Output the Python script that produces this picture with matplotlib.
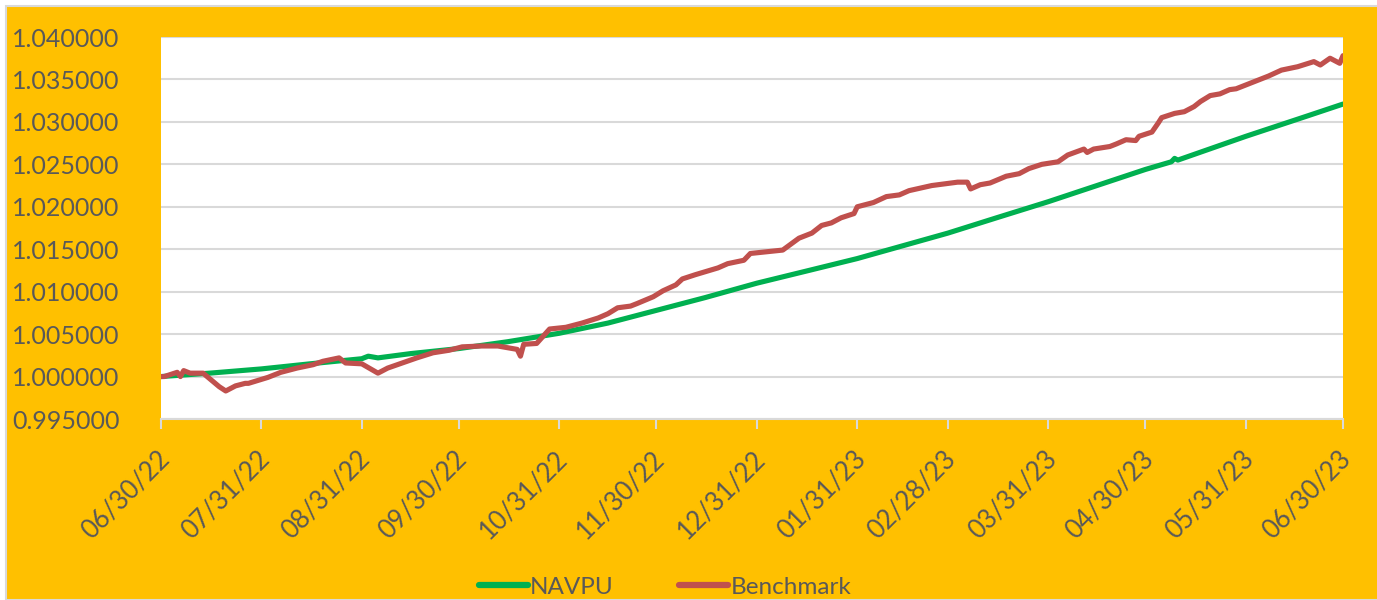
import numpy as np
import pandas as pd
import matplotlib
matplotlib.use('Agg')
import matplotlib.pyplot as plt
import matplotlib.dates as mdates
import matplotlib.transforms as mtransforms
from matplotlib.patches import Rectangle

# NAVPU
navpu_dates = ['2022-06-30', '2022-07-15', '2022-07-31', '2022-08-15', '2022-08-31',
               '2022-09-02', '2022-09-05', '2022-09-15', '2022-09-30', '2022-10-15',
               '2022-10-31', '2022-11-15', '2022-11-30', '2022-12-15', '2022-12-31',
               '2023-01-15', '2023-01-31', '2023-02-14', '2023-02-28', '2023-03-15',
               '2023-03-31', '2023-04-15', '2023-04-30', '2023-05-08', '2023-05-09',
               '2023-05-10', '2023-05-31', '2023-06-19', '2023-06-30']
navpu_vals = [1.0000, 1.0004, 1.0009, 1.0015, 1.0021,
              1.0024, 1.0022, 1.0027, 1.0033, 1.0041,
              1.0051, 1.0063, 1.0078, 1.0093, 1.0110,
              1.0124, 1.0139, 1.0154, 1.0169, 1.0187,
              1.0206, 1.0225, 1.0244, 1.0253, 1.0257,
              1.0255, 1.0283, 1.0307, 1.0321]

# Benchmark
bench_dates = ['2022-06-30', '2022-07-01', '2022-07-05', '2022-07-06', '2022-07-07',
               '2022-07-09', '2022-07-13', '2022-07-18', '2022-07-20', '2022-07-23',
               '2022-07-26', '2022-07-27', '2022-08-02', '2022-08-06', '2022-08-11',
               '2022-08-16', '2022-08-19', '2022-08-24', '2022-08-26', '2022-08-31',
               '2022-09-05', '2022-09-08', '2022-09-17', '2022-09-22', '2022-09-27',
               '2022-10-01', '2022-10-07', '2022-10-12', '2022-10-15', '2022-10-18',
               '2022-10-19', '2022-10-20', '2022-10-24', '2022-10-28', '2022-11-02',
               '2022-11-07', '2022-11-12', '2022-11-15', '2022-11-18', '2022-11-22',
               '2022-11-24', '2022-11-29', '2022-12-02', '2022-12-06', '2022-12-08',
               '2022-12-12', '2022-12-19', '2022-12-22', '2022-12-27', '2022-12-29',
               '2023-01-03', '2023-01-08', '2023-01-13', '2023-01-17', '2023-01-20',
               '2023-01-23', '2023-01-26', '2023-01-30', '2023-01-31', '2023-02-05',
               '2023-02-09', '2023-02-13', '2023-02-16', '2023-02-23', '2023-03-03',
               '2023-03-06', '2023-03-07', '2023-03-10', '2023-03-13', '2023-03-18',
               '2023-03-22', '2023-03-25', '2023-03-29', '2023-04-03', '2023-04-06',
               '2023-04-11', '2023-04-12', '2023-04-14', '2023-04-19', '2023-04-21',
               '2023-04-24', '2023-04-27', '2023-04-28', '2023-05-02', '2023-05-04',
               '2023-05-05', '2023-05-09', '2023-05-12', '2023-05-15', '2023-05-17',
               '2023-05-20', '2023-05-23', '2023-05-26', '2023-05-28', '2023-06-01',
               '2023-06-05', '2023-06-07', '2023-06-11', '2023-06-16', '2023-06-21',
               '2023-06-23', '2023-06-26', '2023-06-29', '2023-06-30']
bench_vals = [1.0000, 1.0000, 1.0005, 1.0000, 1.0007,
              1.0004, 1.0004, 0.9988, 0.9983, 0.9989,
              0.9992, 0.9992, 0.9999, 1.0005, 1.0010,
              1.0014, 1.0018, 1.0022, 1.0016, 1.0015,
              1.0004, 1.0010, 1.0022, 1.0028, 1.0031,
              1.0035, 1.0036, 1.0036, 1.0034, 1.0032,
              1.0024, 1.0038, 1.0039, 1.0056, 1.0058,
              1.0063, 1.0069, 1.0074, 1.0081, 1.0083,
              1.0086, 1.0094, 1.0101, 1.0108, 1.0115,
              1.0120, 1.0128, 1.0133, 1.0137, 1.0145,
              1.0147, 1.0149, 1.0163, 1.0169, 1.0178,
              1.0181, 1.0187, 1.0192, 1.0200, 1.0205,
              1.0212, 1.0214, 1.0219, 1.0225, 1.0229,
              1.0229, 1.0221, 1.0226, 1.0228, 1.0236,
              1.0239, 1.0245, 1.0250, 1.0253, 1.0261,
              1.0268, 1.0264, 1.0268, 1.0271, 1.0274,
              1.0279, 1.0278, 1.0283, 1.0288, 1.0299,
              1.0305, 1.0310, 1.0312, 1.0318, 1.0324,
              1.0331, 1.0333, 1.0338, 1.0339, 1.0345,
              1.0351, 1.0354, 1.0361, 1.0365, 1.0371,
              1.0367, 1.0375, 1.0369, 1.0378]

tick_dates = ['2022-06-30', '2022-07-31', '2022-08-31', '2022-09-30', '2022-10-31',
              '2022-11-30', '2022-12-31', '2023-01-31', '2023-02-28', '2023-03-31',
              '2023-04-30', '2023-05-31', '2023-06-30']
y_ticks = [0.995, 1.000, 1.005, 1.010, 1.015, 1.020, 1.025, 1.030, 1.035, 1.040]

plt.rcParams['font.family'] = ['Lato', 'DejaVu Sans']
txt_color = '#595959'
grid_color = '#D9D9D9'

fig = plt.figure(figsize=(13.77, 6.0), dpi=100)
fig.patch.set_facecolor('white')
# orange chart area with thin grey border, behind the axes
fig.patches.append(Rectangle((6 / 1377, 0), 1.0, 1 - 6 / 600, transform=fig.transFigure,
                             facecolor='#FFC000', edgecolor=grid_color, linewidth=1.5, zorder=-10))

ax = fig.add_axes([161 / 1377, 1 - 419 / 600, (1343 - 161) / 1377, (419 - 37) / 600])
ax.set_facecolor('white')

nd = pd.to_datetime(navpu_dates)
bd = pd.to_datetime(bench_dates)
ax.plot(nd, navpu_vals, color='#00B050', lw=3.7, solid_capstyle='round',
        solid_joinstyle='round', label='NAVPU', zorder=3)
ax.plot(bd, bench_vals, color='#C0504D', lw=3.7, solid_capstyle='round',
        solid_joinstyle='round', label='Benchmark', zorder=4)

td = pd.to_datetime(tick_dates)
ax.set_xlim(td[0], td[-1])
ax.set_xticks(td)
ax.xaxis.set_major_formatter(mdates.DateFormatter('%m/%d/%y'))
ax.set_ylim(0.995, 1.040)
ax.set_yticks(y_ticks)
ax.yaxis.set_major_formatter(matplotlib.ticker.FormatStrFormatter('%.6f'))

ax.grid(axis='y', color=grid_color, lw=1.5, zorder=0)
for s in ['top', 'right', 'left']:
    ax.spines[s].set_visible(False)
ax.spines['bottom'].set_color(grid_color)
ax.spines['bottom'].set_linewidth(1.5)
ax.tick_params(axis='y', length=0, pad=30, labelsize=18, labelcolor=txt_color)
ax.tick_params(axis='x', length=7, width=1.5, color=grid_color, pad=19,
               labelsize=18.5, labelcolor=txt_color)
shift = mtransforms.ScaledTranslation(3 / 72, 0, fig.dpi_scale_trans)
for lab in ax.get_xticklabels():
    lab.set_rotation(45)
    lab.set_ha('right')
    lab.set_va('center')
    lab.set_rotation_mode('anchor')
    lab.set_transform(lab.get_transform() + shift)

leg = fig.legend(loc='center', bbox_to_anchor=(665 / 1377, 1 - 587 / 600), ncol=2, frameon=False,
                 fontsize=17.5, handlelength=2.0, handletextpad=0.1, columnspacing=2.7)
for t in leg.get_texts():
    t.set_color(txt_color)
for h in leg.get_lines():
    h.set_linewidth(4.5)

fig.savefig('out.png', dpi=100, facecolor=fig.get_facecolor())
